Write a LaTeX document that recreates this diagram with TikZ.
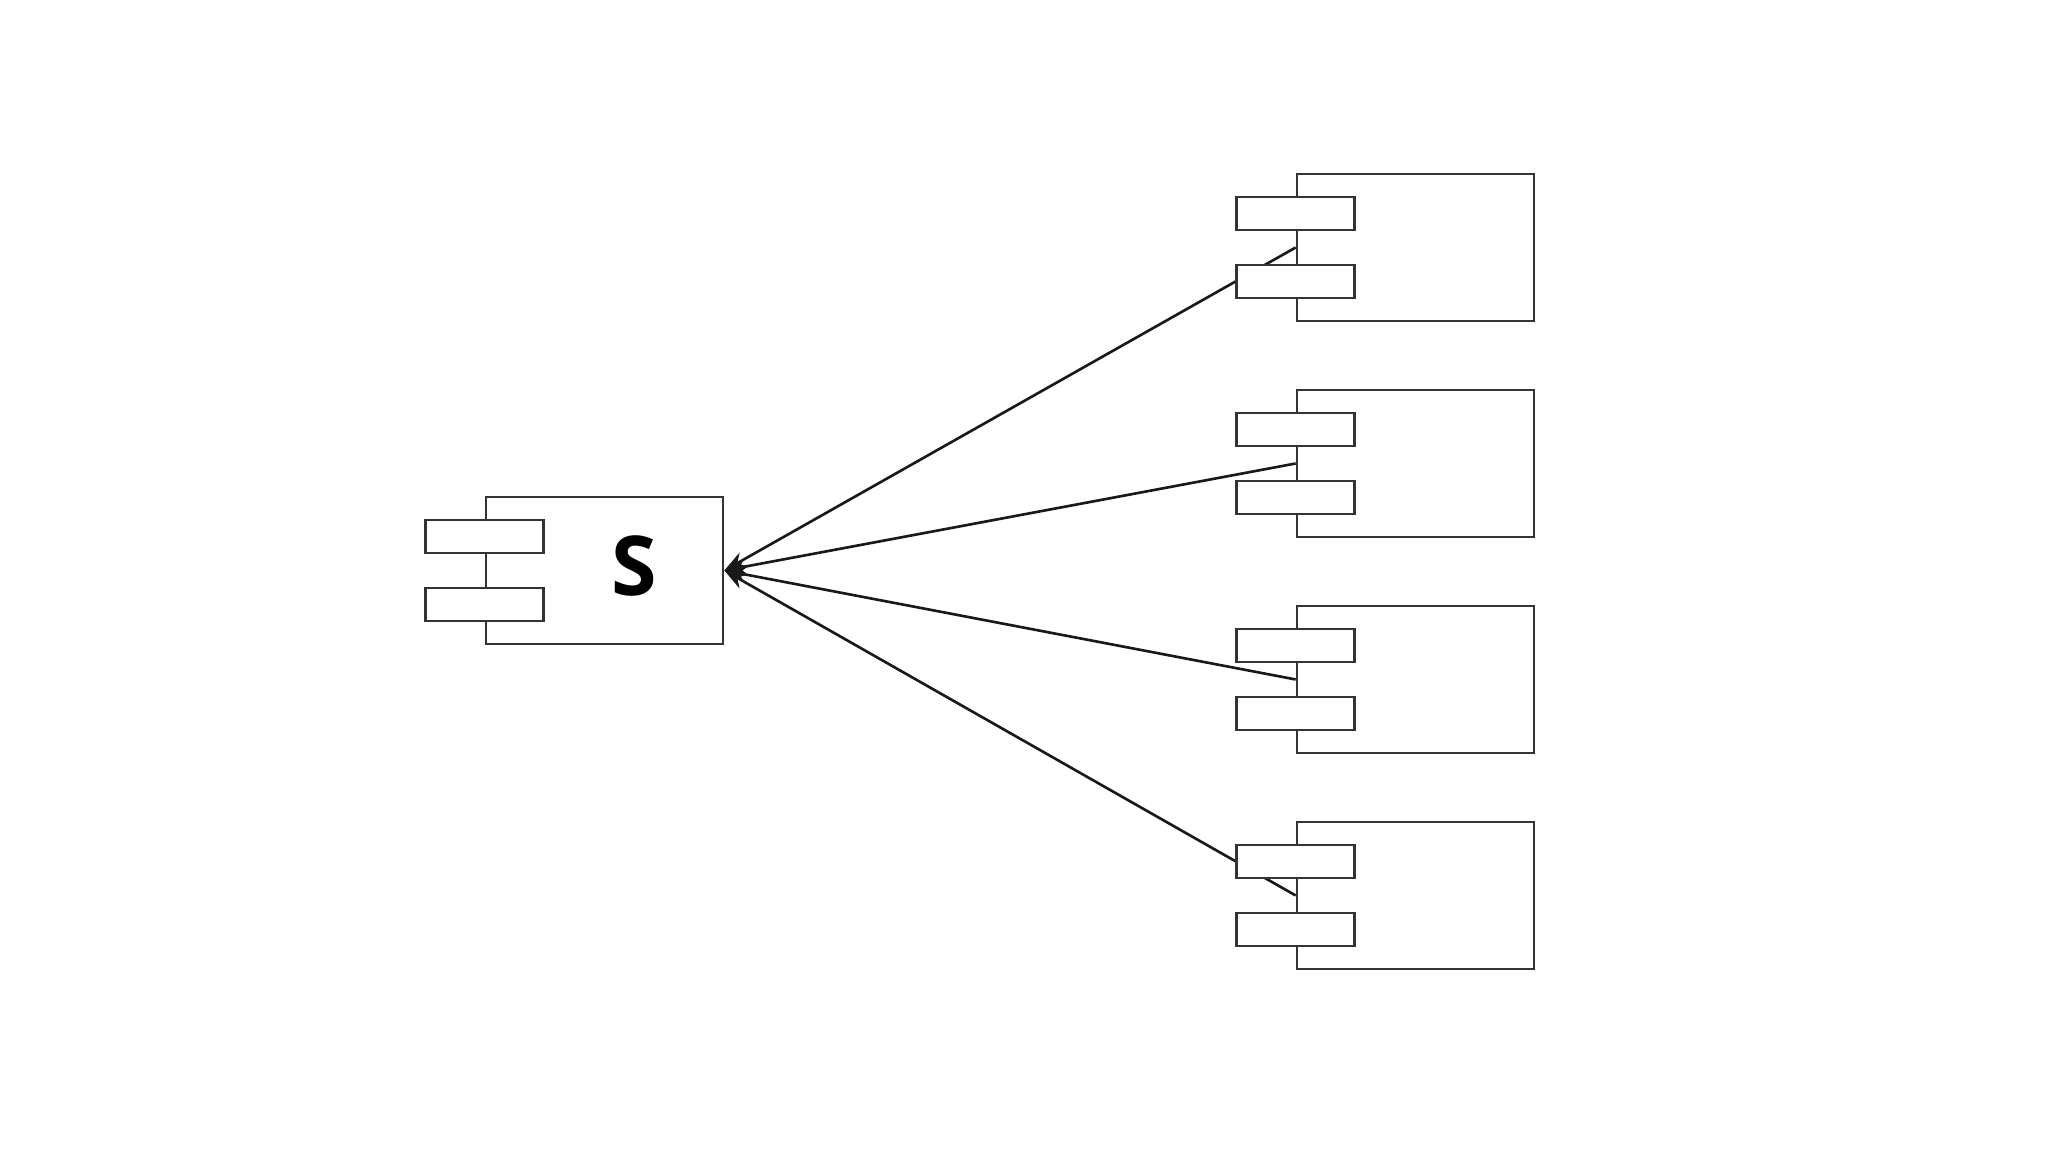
\documentclass[tikz,border=0pt]{standalone}
\usepackage{fontspec}
\setsansfont{Open Sans}
\usepackage{tikz}
\usetikzlibrary{arrows.meta, positioning, backgrounds}

\begin{document}
\begin{tikzpicture}[
    >={Stealth[length=2.2mm, width=1.6mm]},
    % Component body
    body/.style={
        rectangle, draw=black!80, fill=white, line width=0.75pt,
        minimum width=2.37cm, minimum height=1.47cm, inner sep=0pt
    },
    % Component tabs
    tab/.style={
        rectangle, draw=black!80, fill=white, line width=0.75pt,
        minimum width=1.18cm, minimum height=0.33cm, inner sep=0pt
    },
    % Big label
    big/.style={
        font=\sffamily\bfseries\fontsize{23.5}{28}\selectfont
    },
    % Arrow
    arr/.style={->, line width=0.75pt, black!90},
]

\useasboundingbox (0, 0) rectangle (20.48, 11.52);

% ===== SERVER =====
\node[body] (s_body) at (6.045, 5.815) {};
\node[tab] (s_tab1) at ([yshift=0.34cm]s_body.west) {};
\node[tab] (s_tab2) at ([yshift=-0.34cm]s_body.west) {};
\node[big] (s_label) at (6.34, 5.86) {S};

% ===== CLIENTS =====
\node[body] (c1_body) at (14.155, 9.045) {};
\node[tab] (c1_tab1) at ([yshift=0.34cm]c1_body.west) {};
\node[tab] (c1_tab2) at ([yshift=-0.34cm]c1_body.west) {};

\node[body] (c2_body) at (14.155, 6.885) {};
\node[tab] (c2_tab1) at ([yshift=0.34cm]c2_body.west) {};
\node[tab] (c2_tab2) at ([yshift=-0.34cm]c2_body.west) {};

\node[body] (c3_body) at (14.155, 4.725) {};
\node[tab] (c3_tab1) at ([yshift=0.34cm]c3_body.west) {};
\node[tab] (c3_tab2) at ([yshift=-0.34cm]c3_body.west) {};

\node[body] (c4_body) at (14.155, 2.565) {};
\node[tab] (c4_tab1) at ([yshift=0.34cm]c4_body.west) {};
\node[tab] (c4_tab2) at ([yshift=-0.34cm]c4_body.west) {};

% ===== CONNECTIONS =====
\begin{scope}[on background layer]
\draw[arr] (c1_body.west) -- (s_body.east);
\draw[arr] (c2_body.west) -- (s_body.east);
\draw[arr] (c3_body.west) -- (s_body.east);
\draw[arr] (c4_body.west) -- (s_body.east);
\end{scope}

\end{tikzpicture}
\end{document}
